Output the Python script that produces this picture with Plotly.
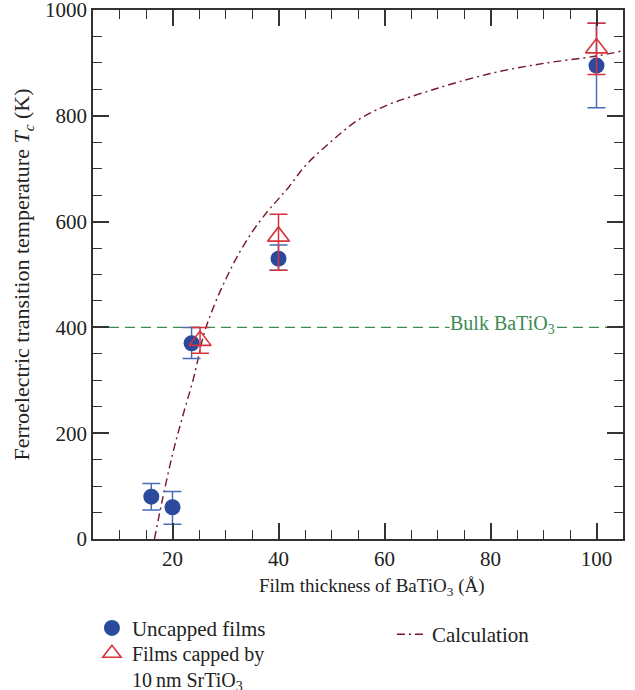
import plotly.graph_objects as go

# ---- data ----
uncapped_x = [16, 20, 23.6, 40, 100]
uncapped_y = [80, 60, 370, 530, 895]
uncapped_err_plus = [25, 30, 30, 26, 80]
uncapped_err_minus = [25, 32, 29, 22, 80]

capped_x = [25.2, 40, 100]
capped_y = [375, 572, 928]
capped_err_plus = [25, 42, 47]
capped_err_minus = [24, 64, 50]

calc_x = [16.6, 18, 20, 22, 24, 26, 28, 30, 32, 35, 38, 40, 42, 45, 50, 55, 60, 70, 80, 90, 100, 105]
calc_y = [0, 70, 160, 235, 305, 390, 445, 490, 530, 580, 620, 643, 666, 705, 752, 792, 818, 852, 880, 899, 913, 923]

BULK_TC = 400
bulk_label_x = 82.3

x_ticks = [20, 40, 60, 80, 100]
y_ticks = [0, 200, 400, 600, 800, 1000]

FONT = "Liberation Serif"
BLUE = "#2c4a9c"
BLUE_ERR = "#4a6cb8"
RED = "#d8333d"
MAROON = "#74182a"
GREEN = "#3b8b52"
TXT = "#222"

fig = go.Figure()

fig.add_hline(y=BULK_TC, line=dict(color=GREEN, width=1.4, dash="10px,6px"), layer="below")

fig.add_trace(go.Scatter(
    x=calc_x, y=calc_y, mode="lines", name="Calculation",
    line=dict(color=MAROON, width=1.4, dash="8px,4px,2px,4px", shape="spline"),
    legend="legend2", showlegend=True,
))

fig.add_trace(go.Scatter(
    x=uncapped_x, y=uncapped_y, mode="markers", name="Uncapped films",
    marker=dict(symbol="circle", size=16, color=BLUE),
    error_y=dict(type="data", symmetric=False, array=uncapped_err_plus,
                 arrayminus=uncapped_err_minus, color=BLUE_ERR, thickness=1.5, width=9),
    legend="legend", showlegend=True,
))

fig.add_trace(go.Scatter(
    x=capped_x, y=capped_y, mode="markers",
    name="Films capped by<br>10\u2009nm SrTiO<sub>3</sub>",
    marker=dict(symbol="triangle-up-open", size=19, color=RED, line=dict(width=1.6, color=RED)),
    error_y=dict(type="data", symmetric=False, array=capped_err_plus,
                 arrayminus=capped_err_minus, color=RED, thickness=1.5, width=9),
    legend="legend3", showlegend=True,
))

fig.add_annotation(
    x=bulk_label_x, y=BULK_TC, text="Bulk BaTiO<sub>3</sub>", showarrow=False,
    font=dict(family=FONT, size=20, color=GREEN), bgcolor="white",
    xanchor="center", yanchor="middle", yshift=3, borderpad=0,
)

fig.add_annotation(
    x=0.526, y=-0.09, xref="paper", yref="paper",
    text="Film thickness of BaTiO<sub>3</sub> (Å)", showarrow=False,
    font=dict(family=FONT, size=19, color=TXT), xanchor="center", yanchor="middle",
)

axis_common = dict(
    showline=True, linecolor="#333", linewidth=1.5, mirror="ticks",
    ticks="inside", ticklen=16, tickwidth=1.5, tickcolor="#333",
    showgrid=False, zeroline=False, ticklabeloverflow="allow",
    tickfont=dict(family=FONT, size=21, color=TXT),
)

fig.update_xaxes(
    range=[5, 105], tickvals=x_ticks,
    minor=dict(dtick=5, tick0=0, ticks="inside", ticklen=9, tickwidth=1.3, tickcolor="#333"),
    **axis_common,
)
fig.update_yaxes(
    range=[0, 1000], tickvals=y_ticks,
    minor=dict(dtick=50, tick0=0, ticks="inside", ticklen=9, tickwidth=1.3, tickcolor="#333"),
    title=dict(text="Ferroelectric transition temperature <i>T<sub>c</sub></i> (K)",
               font=dict(family=FONT, size=22, color=TXT), standoff=9),
    **axis_common,
)

legend_font = dict(family=FONT, size=21, color=TXT)
fig.update_layout(
    width=635, height=690,
    margin=dict(l=93, r=12, t=10, b=151, autoexpand=False),
    plot_bgcolor="white", paper_bgcolor="white",
    font=dict(family=FONT, size=19, color=TXT),
    showlegend=True,
    legend=dict(
        x=-0.002, y=-0.130, xanchor="left", yanchor="top",
        font=legend_font, bgcolor="rgba(0,0,0,0)", visible=True,
    ),
    legend2=dict(
        x=0.564, y=-0.142, xanchor="left", yanchor="top",
        font=legend_font, bgcolor="rgba(0,0,0,0)", visible=True,
    ),
    legend3=dict(
        x=-0.002, y=-0.179, xanchor="left", yanchor="top",
        valign="top", font=dict(family=FONT, size=20, color=TXT),
        bgcolor="rgba(0,0,0,0)", visible=True,
    ),
)

# remove the browser's default 8px body margin so the figure fills the window
fig.write_html("out.html", config={"displayModeBar": False},
               post_script="document.body.style.margin='0';")
